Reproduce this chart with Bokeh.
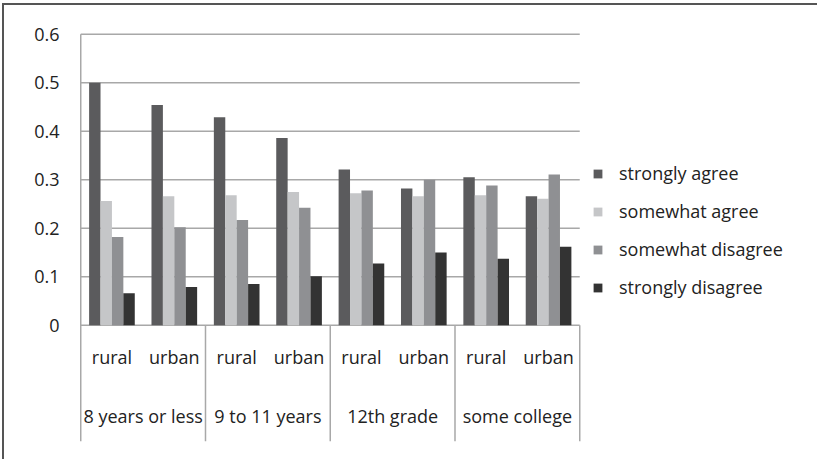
from bokeh.plotting import figure
from bokeh.models import Range1d, FixedTicker, Legend, LegendItem, ColumnDataSource, CustomJSTickFormatter
from bokeh.core.properties import value
from bokeh.embed import file_html
from bokeh.resources import INLINE

# ---- data ----
education = ["8 years or less", "9 to 11 years", "12th grade", "some college"]
locations = ["rural", "urban"]
series_names = ["strongly agree", "somewhat agree", "somewhat disagree", "strongly disagree"]
strongly_agree = [0.500, 0.454, 0.429, 0.386, 0.321, 0.282, 0.305, 0.266]
somewhat_agree = [0.256, 0.266, 0.268, 0.275, 0.272, 0.266, 0.268, 0.261]
somewhat_disagree = [0.182, 0.202, 0.217, 0.242, 0.278, 0.300, 0.288, 0.311]
strongly_disagree = [0.066, 0.079, 0.085, 0.101, 0.127, 0.150, 0.137, 0.162]
y_ticks = [0, 0.1, 0.2, 0.3, 0.4, 0.5, 0.6]

series_values = [strongly_agree, somewhat_agree, somewhat_disagree, strongly_disagree]
colors = ["#5b5b5d", "#c5c6c8", "#8f9093", "#333333"]
FONT = "Open Sans"
FS = "18px"
GRID = "#a8a8a8"
TXT = "#222222"

n_cat = len(education) * len(locations)
unit_px = 499 / n_cat          # pixels per category
frame_w = 815 - 75
x_end = -0.02 + frame_w / unit_px

p = figure(width=815, height=456, output_backend="svg", toolbar_location=None,
           x_range=Range1d(-0.02, x_end), y_range=Range1d(-0.24, 0.61),
           x_axis_location=None, min_border_left=75, min_border_right=0,
           min_border_top=24, min_border_bottom=20)
# chart-area outline (top and left edges only, as in the reference)
p.styles = {"box-shadow": "-2px -2px 0px 0px #555555",
            "margin-top": "5px", "margin-left": "4px"}
p.outline_line_color = None
p.background_fill_color = "white"
p.border_fill_color = "white"
p.xgrid.visible = False
p.ygrid.visible = False

ax = p.yaxis[0]
ax.ticker = FixedTicker(ticks=y_ticks)
ax.axis_line_color = None
ax.major_tick_line_color = None
ax.minor_tick_line_color = None
ax.major_label_standoff = 14
ax.major_label_text_font = FONT
ax.major_label_text_font_size = FS
ax.major_label_text_color = TXT
ax.formatter = CustomJSTickFormatter(code="return tick == 0 ? '0' : tick.toFixed(1);")

# horizontal gridlines across the category span only
p.segment(x0=[0] * len(y_ticks), x1=[n_cat] * len(y_ticks), y0=y_ticks, y1=y_ticks,
          line_color=GRID, line_width=1.5)

# bars
bw = 0.183
centers = [i + 0.5 for i in range(n_cat)]
renderers = []
for j, (vals, col) in enumerate(zip(series_values, colors)):
    xs = [c + (j - 1.5) * bw for c in centers]
    src = ColumnDataSource(dict(x=xs, top=vals))
    r = p.vbar(x="x", top="top", width=bw, bottom=0, source=src,
               fill_color=col, line_color=None)
    renderers.append(r)

# category axis: separators
sep_x = [2 * k for k in range(len(education) + 1)]
p.segment(x0=sep_x, x1=sep_x, y0=[-0.24] * len(sep_x),
          y1=[0.6] + [0] * (len(sep_x) - 1), line_color=GRID, line_width=1.5)

# category labels
loc_t = [locations[i % 2] for i in range(n_cat)]
p.text(x=centers, y=[-0.066] * n_cat, text=loc_t, text_align="center",
       text_baseline="middle", text_font=value(FONT), text_font_size=FS,
       text_color=TXT)
edu_x = [2 * k + 1 for k in range(len(education))]
p.text(x=edu_x, y=[-0.187] * len(education), text=education, text_align="center",
       text_baseline="middle", text_font=value(FONT), text_font_size=FS,
       text_color=TXT)

legend = Legend(items=[LegendItem(label=n, renderers=[r]) for n, r in zip(series_names, renderers)],
                location=(513, 142), orientation="vertical", padding=0, margin=0,
                glyph_width=11, glyph_height=11, label_standoff=16, spacing=14,
                label_height=20, border_line_color=None, background_fill_alpha=0,
                label_text_font=FONT, label_text_font_size=FS, label_text_color=TXT)
p.add_layout(legend, "center")

open("out.html", "w").write(file_html(p, INLINE))
